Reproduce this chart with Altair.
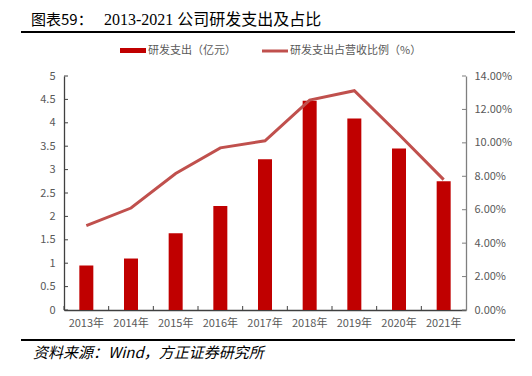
import altair as alt
import pandas as pd

years = ["2013年", "2014年", "2015年", "2016年", "2017年", "2018年", "2019年", "2020年", "2021年"]
rd_spend = [0.95, 1.10, 1.64, 2.22, 3.22, 4.47, 4.09, 3.45, 2.75]          # 亿元
rd_ratio = [0.0505, 0.061, 0.0817, 0.097, 0.1012, 0.1256, 0.1312, 0.105, 0.078]  # share of revenue
left_ticks = [0, 0.5, 1, 1.5, 2, 2.5, 3, 3.5, 4, 4.5, 5]
right_ticks = [0, 0.02, 0.04, 0.06, 0.08, 0.10, 0.12, 0.14]

df = pd.DataFrame({"year": years, "spend": rd_spend, "ratio": rd_ratio})
df_lt = pd.DataFrame({"v": left_ticks})
df_rt = pd.DataFrame({"v": right_ticks})

CJK = "Noto Sans CJK SC"
GRAY = "#595959"
BAR = "#C00000"
LINE = "#C0504D"

xaxis = alt.Axis(labelAngle=0, labelFont=CJK, labelFontSize=11, labelColor=GRAY,
                 domainColor="#404040", domainWidth=1.3, ticks=False, labelPadding=7,
                 labelOverlap=False)
xscale = alt.Scale(paddingInner=0, paddingOuter=0)
laxis = alt.Axis(values=left_ticks, format="~g", labelFont=CJK, labelFontSize=11,
                 labelColor=GRAY, domainColor="#404040", domainWidth=1.3,
                 ticks=False, labelPadding=9, grid=False, orient="left",
                 labelOverlap=False)
raxis = alt.Axis(values=right_ticks, format=".2%", orient="right", labelFont=CJK,
                 labelFontSize=11, labelColor=GRAY, domainColor="#7f7f7f",
                 domainWidth=1.3, ticks=False, labelPadding=8, grid=False,
                 labelOverlap=False)

yleft = alt.Scale(domain=[0, 5], nice=False)
yright = alt.Scale(domain=[0, 0.14], nice=False)

bars = alt.Chart(df).mark_bar(size=14, color=BAR).encode(
    x=alt.X("year:N", sort=years, title=None, scale=xscale, axis=xaxis),
    y=alt.Y("spend:Q", scale=yleft, title=None, axis=laxis),
)

lticks = alt.Chart(df_lt).mark_rule(color="#404040", strokeWidth=1).encode(
    y=alt.Y("v:Q", scale=yleft, title=None, axis=laxis), x=alt.value(0), x2=alt.value(4))

xticks = alt.Chart(df).mark_rule(color="#404040", strokeWidth=1).encode(
    x=alt.X("year:N", sort=years, bandPosition=0, title=None, scale=xscale, axis=xaxis),
    y=alt.value(234), y2=alt.value(230))

# decorations
title1 = alt.Chart(df.head(1)).mark_text(text="图表59：", font=CJK, fontSize=15, align="left",
                                       baseline="middle", color="black").encode(
    x=alt.value(-33), y=alt.value(-56))
title2 = alt.Chart(df.head(1)).mark_text(text="2013-2021 公司研发支出及占比",
                                       font="Liberation Serif, Noto Sans CJK SC", fontSize=16,
                                       align="left", baseline="middle", color="black").encode(
    x=alt.value(40), y=alt.value(-56))
top_rule = alt.Chart(df.head(1)).mark_rule(color="black", strokeWidth=2.2).encode(
    x=alt.value(-43), x2=alt.value(451), y=alt.value(-44))
bot_rule = alt.Chart(df.head(1)).mark_rule(color="black", strokeWidth=2.2).encode(
    x=alt.value(-43), x2=alt.value(451), y=alt.value(264))
source = alt.Chart(df.head(1)).mark_text(text="资料来源：Wind，方正证券研究所", font=CJK,
                                        fontSize=15, fontStyle="italic", align="left",
                                        baseline="middle", color="black").encode(
    x=alt.value(-31), y=alt.value(276.5))
leg_rect = alt.Chart(df.head(1)).mark_rect(color=BAR).encode(
    x=alt.value(56), x2=alt.value(82), y=alt.value(-28), y2=alt.value(-23))
leg_t1 = alt.Chart(df.head(1)).mark_text(text="研发支出（亿元）", font=CJK, fontSize=11,
                                        align="left", baseline="middle", color=GRAY).encode(
    x=alt.value(84), y=alt.value(-25.5))
leg_line = alt.Chart(df.head(1)).mark_rule(color=LINE, strokeWidth=3).encode(
    x=alt.value(198), x2=alt.value(224), y=alt.value(-25))
leg_t2 = alt.Chart(df.head(1)).mark_text(text="研发支出占营收比例（%）", font=CJK, fontSize=11,
                                        align="left", baseline="middle", color=GRAY).encode(
    x=alt.value(226), y=alt.value(-25.5))

left = alt.layer(bars, lticks, xticks, title1, title2, top_rule, bot_rule, source,
                 leg_rect, leg_t1, leg_line, leg_t2)

line = alt.Chart(df).mark_line(color=LINE, strokeWidth=3).encode(
    x=alt.X("year:N", sort=years, title=None, scale=xscale, axis=xaxis),
    y=alt.Y("ratio:Q", scale=yright, title=None, axis=raxis),
)
rticks = alt.Chart(df_rt).mark_rule(color="#7f7f7f", strokeWidth=1).encode(
    y=alt.Y("v:Q", scale=yright, title=None, axis=raxis), x=alt.value(398), x2=alt.value(402))

right = alt.layer(line, rticks)

chart = alt.layer(left, right).resolve_scale(y="independent").properties(
    width=402, height=234,
    autosize=alt.AutoSizeParams(type="none"),
    padding={"left": 64, "top": 76, "right": 66, "bottom": 66},
    background="white",
).configure_view(stroke=None).configure_axis(labelOverlap=False)

chart.save("out.html", embed_options={"renderer": "svg", "actions": False})
